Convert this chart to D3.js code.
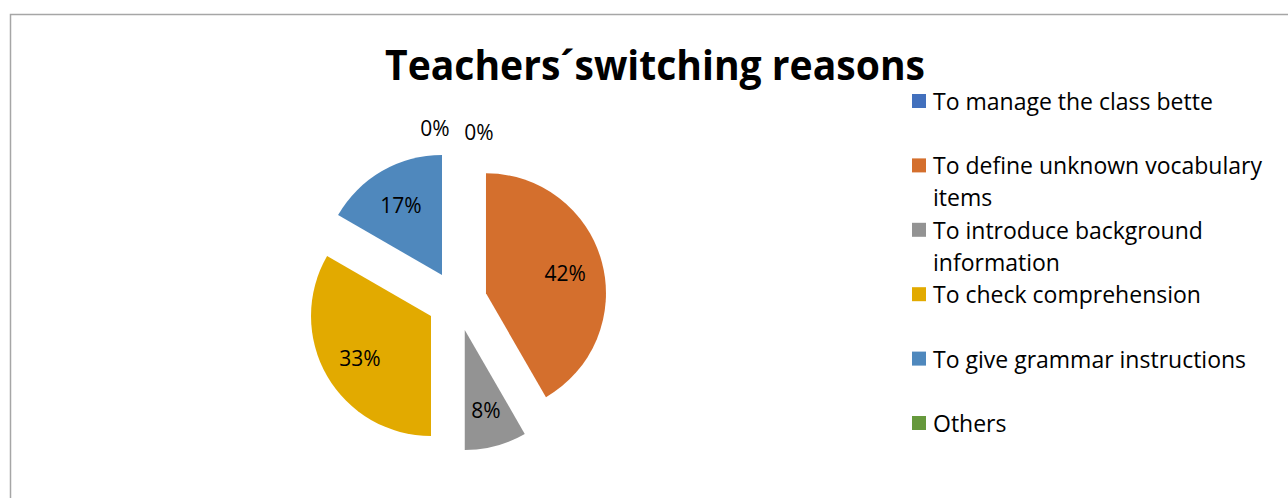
<!DOCTYPE html>
<html>
<head>
<meta charset="utf-8">
<script src="https://cdn.jsdelivr.net/npm/d3@7"></script>
<style>
  html, body { margin: 0; padding: 0; background: #fff; }
  svg { display: block; }
  text { font-family: "Open Sans", Lato, sans-serif; fill: #000; }
</style>
</head>
<body>
<svg id="chart" width="1288" height="498"></svg>
<script>
// Reasons teachers gave for switching language (number of answers)
const categories = [
  "To manage the class bette",
  "To define unknown vocabulary items",
  "To introduce background information",
  "To check comprehension",
  "To give grammar instructions",
  "Others"
];
const legendLines = [
  ["To manage the class bette"],
  ["To define unknown vocabulary", "items"],
  ["To introduce background", "information"],
  ["To check comprehension"],
  ["To give grammar instructions"],
  ["Others"]
];
const counts = [0, 5, 1, 4, 2, 0];
const colors = ["#4270BD", "#D46F2D", "#939393", "#E2AA00", "#4F88BD", "#66993C"];
const title = "Teachers\u00B4switching reasons";

const svg = d3.select("#chart");
const W = 1288, H = 498;

// chart frame
svg.append("rect")
  .attr("x", 10.5).attr("y", 14.5)
  .attr("width", W).attr("height", H)
  .attr("fill", "#fff").attr("stroke", "#a6a6a6").attr("stroke-width", 1.5);

// title
svg.append("text")
  .attr("x", 655).attr("y", 80)
  .attr("text-anchor", "middle")
  .attr("font-family", "Lato, sans-serif")
  .attr("font-weight", 700)
  .attr("font-size", 41)
  .attr("textLength", 540)
  .attr("lengthAdjust", "spacingAndGlyphs")
  .text(title);

// exploded pie
const cx = 457, cy = 301, R = 120, explode = 30, labelR = 82;
const total = d3.sum(counts);
const pie = d3.pie().sort(null).value(d => d)(counts);
const arc = d3.arc().innerRadius(0).outerRadius(R);
const fmt = d => d3.format(".0%")(d / total);

const g = svg.append("g").attr("transform", `translate(${cx},${cy})`);

pie.forEach((p, i) => {
  const mid = (p.startAngle + p.endAngle) / 2;
  const ux = Math.sin(mid), uy = -Math.cos(mid);
  if (p.value > 0) {
    g.append("path")
      .attr("d", arc(p))
      .attr("fill", colors[i])
      .attr("transform", `translate(${ux * explode},${uy * explode})`);
    g.append("text")
      .attr("x", ux * (explode + labelR))
      .attr("y", uy * (explode + labelR) + 1)
      .attr("text-anchor", "middle")
      .attr("dominant-baseline", "central")
      .attr("font-size", 21)
      .text(fmt(p.value));
  } else {
    // empty slices get their label outside the pie, pushed apart sideways
    const side = i === 0 ? -1 : 1;
    g.append("text")
      .attr("x", ux * 171 + side * 22)
      .attr("y", uy * 171 + (i === 0 ? -2 : 2))
      .attr("text-anchor", "middle")
      .attr("dominant-baseline", "central")
      .attr("font-size", 21)
      .text(fmt(p.value));
  }
});

// legend
const lg = svg.append("g");
const rowY = d3.scaleLinear().domain([0, 1]).range([101, 165.4]);
legendLines.forEach((lines, i) => {
  const y = rowY(i);
  lg.append("rect")
    .attr("x", 912).attr("y", y - 7)
    .attr("width", 14).attr("height", 14)
    .attr("fill", colors[i]);
  lines.forEach((ln, j) => {
    lg.append("text")
      .attr("x", 933).attr("y", y + j * 32)
      .attr("dominant-baseline", "central")
      .attr("font-size", 23)
      .text(ln);
  });
});
</script>
</body>
</html>
